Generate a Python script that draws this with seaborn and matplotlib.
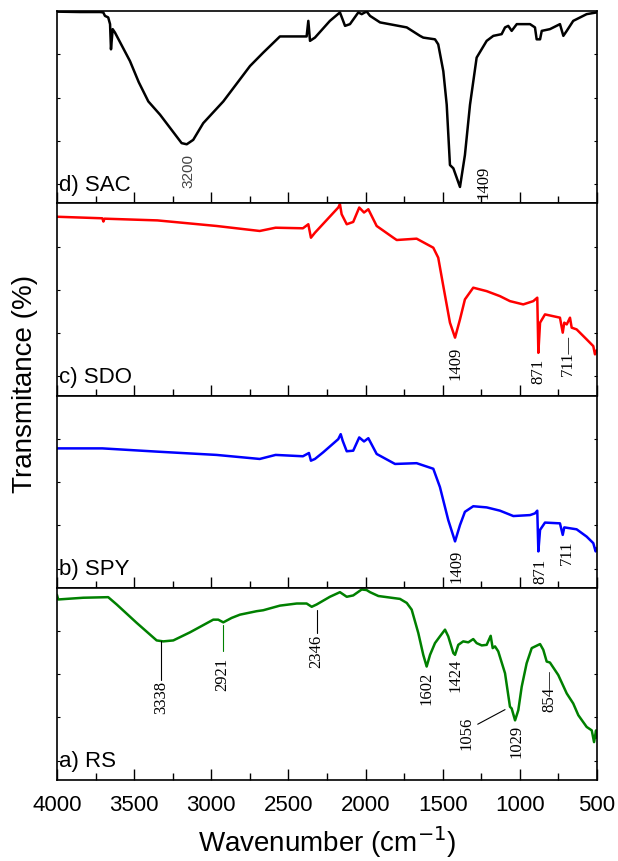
import matplotlib
matplotlib.use("Agg")
import matplotlib.pyplot as plt
from matplotlib.ticker import MultipleLocator
import pandas as pd
import seaborn as sns

# FTIR spectra: wavenumber (cm-1) and transmittance
# (%, each panel scaled 0-100 on its own)
sac_wn = [4000, 3851, 3721, 3700, 3689, 3668, 3656, 3650, 3639, 3624, 3527, 3470, 3408, 3332,
          3192, 3159, 3117, 3052, 2922, 2749, 2663, 2555, 2382, 2371, 2360, 2328, 2231,
          2166, 2133, 2101, 2047, 2025, 1993, 1971, 1906, 1733, 1647, 1626, 1550, 1529,
          1496, 1474, 1453, 1431, 1388, 1356, 1323, 1280, 1215, 1172, 1118, 1096, 1075,
          1053, 1020, 934, 902, 891, 869, 858, 805, 740, 718, 696, 654, 567, 502]
sac_t = [99.7, 99.5, 99.5, 99.3, 97.5, 96.7, 93.2, 80.1, 90.6, 88.8, 74.0, 63.0, 53.0, 46.1,
         31.3, 30.7, 33.0, 41.7, 53.0, 71.4, 78.4, 86.8, 86.8, 94.9, 84.5, 86.2, 94.9,
         99.3, 92.3, 93.2, 99.3, 98.4, 99.8, 97.5, 94.1, 91.5, 87.1, 86.2, 85.3, 82.7,
         68.7, 51.3, 19.9, 18.2, 8.5, 25.1, 51.3, 75.8, 84.5, 87.1, 88.0, 91.5, 92.3,
         89.7, 93.2, 93.2, 91.5, 85.3, 85.3, 89.7, 90.6, 93.2, 87.1, 89.7, 94.9, 98.4, 99.3]

sdo_wn = [4000, 3706, 3699, 3692, 3349, 2966, 2686, 2583, 2406, 2371, 2354, 2328, 2177,
          2166, 2155, 2122, 2080, 2041, 2010, 1982, 1928, 1820, 1798, 1669, 1561, 1529,
          1496, 1453, 1420, 1388, 1356, 1302, 1215, 1129, 1064, 978, 913, 887, 880, 869,
          837, 740, 722, 712, 696, 675, 664, 632, 567, 524, 513, 503]
sdo_t = [93.0, 92.2, 90.5, 92.0, 91.1, 88.2, 85.6, 87.3, 87.0, 89.1, 82.1, 84.7, 97.8,
         99.5, 94.3, 89.1, 90.3, 97.8, 95.2, 96.9, 88.2, 82.1, 80.9, 81.6, 76.9, 71.7,
         56.9, 37.9, 30.1, 39.6, 50.0, 56.1, 54.3, 51.7, 49.1, 47.4, 49.1, 50.9, 22.2, 37.9,
         42.2, 40.5, 32.7, 37.9, 37.0, 40.5, 35.3, 34.4, 29.2, 25.7, 21.4, 23.5]

spy_wn = [4000, 3706, 3349, 2966, 2686, 2583, 2406, 2367, 2354, 2328, 2274, 2177, 2161,
          2148, 2122, 2080, 2041, 2010, 1982, 1928, 1809, 1669, 1561, 1518, 1464, 1420,
          1388, 1356, 1302, 1215, 1129, 1042, 934, 902, 887, 880, 869, 837, 740, 722, 712,
          632, 567, 524, 509, 502]
spy_t = [72.5, 72.5, 70.8, 69.1, 67.0, 69.1, 68.4, 70.1, 66.1, 67.0, 70.5, 77.3, 79.9,
         76.4, 71.0, 71.3, 78.2, 76.1, 77.8, 69.6, 64.4, 64.8, 61.9, 52.4, 35.2, 24.1,
         32.6, 39.5, 42.4, 41.8, 40.1, 37.3, 37.8, 38.7, 40.1, 18.9, 30.1, 33.9, 33.5, 27.5,
         31.4, 30.4, 26.6, 23.2, 18.9, 20.5]

rs_wn = [4000, 3992, 3830, 3668, 3613, 3483, 3354, 3311, 3246, 3138, 2987, 2955, 2922,
         2868, 2814, 2706, 2663, 2555, 2446, 2382, 2349, 2317, 2231, 2166, 2122, 2080,
         2025, 1993, 1971, 1917, 1777, 1733, 1701, 1658, 1626, 1604, 1582, 1550, 1518,
         1485, 1464, 1431, 1420, 1399, 1367, 1334, 1302, 1280, 1247, 1215, 1189, 1176,
         1161, 1140, 1096, 1064, 1053, 1031, 1010, 988, 956, 923, 869, 848, 826, 805, 751,
         696, 654, 621, 567, 534, 519, 506, 502]
rs_t = [96.3, 93.9, 94.8, 95.1, 91.3, 81.7, 72.6, 72.1, 72.6, 76.8, 83.4, 83.4, 82.0,
        84.3, 86.0, 87.8, 88.3, 90.7, 91.8, 91.8, 90.1, 91.3, 95.3, 97.7, 95.3, 96.0,
        99.1, 98.8, 97.7, 95.7, 94.2, 92.1, 88.6, 76.4, 65.1, 59.0, 65.1, 71.2, 74.7,
        78.2, 74.7, 66.0, 65.1, 70.3, 72.1, 71.6, 73.3, 71.2, 70.0, 70.3, 75.0, 68.6,
        69.5, 66.9, 55.5, 38.1, 37.2, 31.0, 36.3, 48.5, 60.7, 68.6, 70.7, 67.7, 61.6,
        61.1, 54.6, 45.0, 39.8, 33.7, 27.6, 25.8, 19.7, 25.8, 22.0]

panels = ["d) SAC", "c) SDO", "b) SPY", "a) RS"]
colors = ["black", "red", "blue", "green"]

df = pd.concat([
    pd.DataFrame({"wn": sac_wn, "t": sac_t, "sample": "d) SAC"}),
    pd.DataFrame({"wn": sdo_wn, "t": sdo_t, "sample": "c) SDO"}),
    pd.DataFrame({"wn": spy_wn, "t": spy_t, "sample": "b) SPY"}),
    pd.DataFrame({"wn": rs_wn, "t": rs_t, "sample": "a) RS"}),
])

# peak labels: (text, x, y, font)
peaks = {
    "d) SAC": [("3200", 3149, 17.3, "sans"), ("1409", 1237, 11.5, "serif")],
    "c) SDO": [("1409", 1414, 17.4, "serif"), ("871", 880, 12.8, "serif"),
               ("711\u2014", 686, 21.6, "serif")],
    "b) SPY": [("1409", 1409, 11.6, "serif"), ("871", 869, 9.0, "serif"),
               ("711", 697, 18.8, "serif")],
    "a) RS": [("3338", 3326, 43.2, "serif"), ("2921", 2926, 55.5, "serif"),
              ("2346", 2317, 67.3, "serif"), ("1602", 1608, 48.2, "serif"),
              ("1424", 1420, 55.0, "serif"), ("1056", 1345, 24.6, "serif"),
              ("1029", 1025, 20.7, "serif"), ("854\u2014", 809, 46.6, "serif")],
}
# leader lines in panel a: (x0, y0, x1, y1, colour)
leaders = [(3326, 72.3, 3326, 51.8, "black"), (2926, 80.6, 2926, 67.0, "green"),
           (2317, 88.6, 2317, 76.4, "black"), (1273, 29.0, 1096, 36.6, "black")]

sns.set_style("ticks")
plt.rcParams["font.family"] = ["Liberation Sans", "DejaVu Sans"]
plt.rcParams["text.color"] = "black"
plt.rcParams["axes.labelcolor"] = "black"
plt.rcParams["xtick.color"] = "black"
plt.rcParams["ytick.color"] = "black"

fig, axes = plt.subplots(4, 1, figsize=(6.18, 8.62), dpi=100, sharex=True)
fig.subplots_adjust(left=0.0922, right=0.966, top=0.986, bottom=0.094, hspace=0)

for ax, name, col in zip(axes, panels, colors):
    sub = df[df["sample"] == name]
    sns.lineplot(data=sub, x="wn", y="t", ax=ax, color=col, lw=1.8, sort=False,
                 estimator=None)
    ax.set_xlim(4000, 500)
    ax.set_ylim(0, 100)
    ax.set_xlabel("")
    ax.set_ylabel("")
    ax.xaxis.set_major_locator(MultipleLocator(500))
    ax.xaxis.set_minor_locator(MultipleLocator(250))
    ax.set_yticks([10, 32.5, 55, 77.5])
    ax.tick_params(axis="x", which="major", direction="in", length=8, width=1,
                   top=False, labelsize=16, pad=10, colors="black")
    ax.tick_params(axis="x", which="minor", direction="in", length=5, width=1,
                   top=False, colors="black")
    ax.tick_params(axis="y", direction="in", length=2, width=0.8, left=True, right=True,
                   labelleft=False, colors="black")
    for s in ax.spines.values():
        s.set_visible(True)
        s.set_linewidth(1.2)
        s.set_color("black")
    ax.text(0.004, 0.045, name, transform=ax.transAxes, fontsize=16, ha="left",
            va="bottom", color="black")
    for txt, x, y, fnt in peaks[name]:
        if fnt == "sans":
            ax.text(x, y, txt, rotation=90, ha="center", va="center", fontsize=11,
                    color="#444444", family=["Liberation Sans"])
        else:
            ax.text(x, y, txt, rotation=90, ha="center", va="center", fontsize=12,
                    color="black", family=["Liberation Serif"])

for x0, y0, x1, y1, c in leaders:
    axes[3].plot([x0, x1], [y0, y1], color=c, lw=0.8)

axes[3].set_xlabel("Wavenumber (cm$^{-1}$)", fontsize=20, labelpad=6, color="black")
fig.text(0.04, 0.555, "Transmitance (%)", rotation=90, ha="center", va="center",
         fontsize=20, color="black")

fig.savefig("out.png", dpi=100)
